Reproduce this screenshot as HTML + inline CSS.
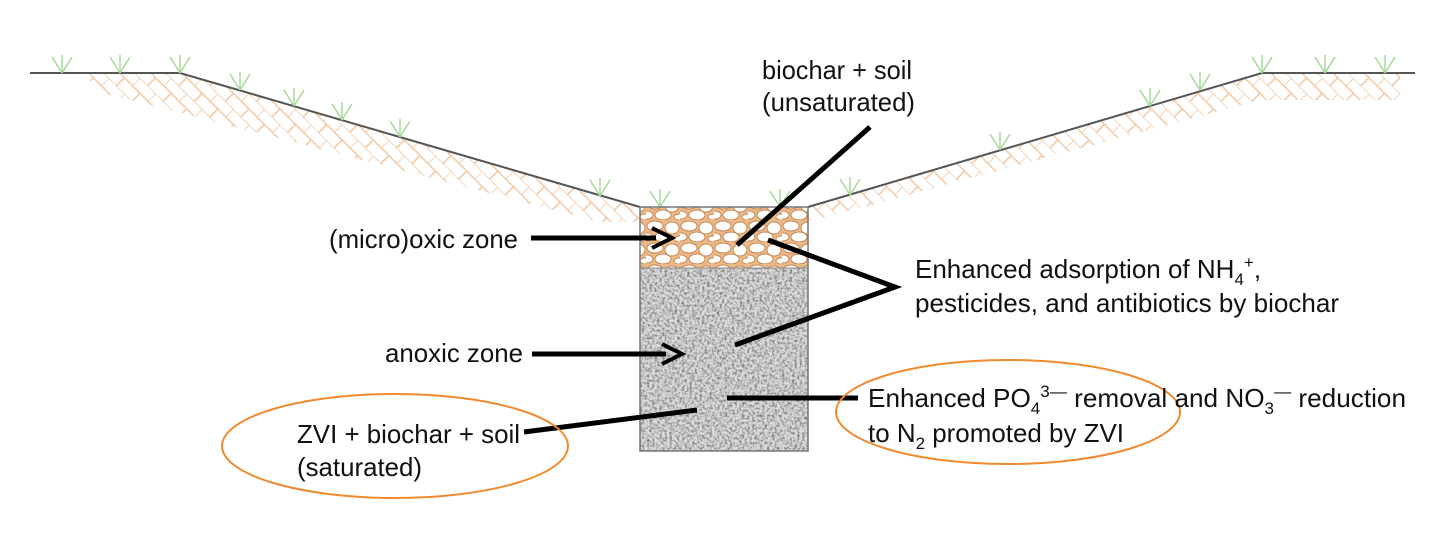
<!DOCTYPE html>
<html><head><meta charset="utf-8"><style>
html,body{margin:0;padding:0;background:#fff;}
svg{display:block;}
text{font-family:"Liberation Sans",sans-serif;font-size:26px;fill:#111;}
</style></head><body>
<svg width="1456" height="539" viewBox="0 0 1456 539" xmlns="http://www.w3.org/2000/svg">
<defs>
<pattern id="brick" width="22" height="22" patternUnits="userSpaceOnUse" patternTransform="rotate(45)">
<rect width="22" height="22" fill="#fff"/>
<path d="M0 0H22M0 11H22M0 0V11M11 11V22" stroke="#f0c9a8" stroke-width="1.6" fill="none"/>
</pattern>
<pattern id="peb" width="34" height="22" patternUnits="userSpaceOnUse">
<rect width="34" height="22" fill="#eab98a"/>
<ellipse cx="9" cy="6" rx="8" ry="5" fill="#fff" stroke="#c98a55"/>
<ellipse cx="26" cy="8" rx="7" ry="6" fill="#fff" stroke="#c98a55"/>
<ellipse cx="17" cy="17" rx="8" ry="5" fill="#fff" stroke="#c98a55"/>
<ellipse cx="1" cy="17" rx="6" ry="4" fill="#fff" stroke="#c98a55"/>
<ellipse cx="33" cy="19" rx="5" ry="3" fill="#fff" stroke="#c98a55"/>
</pattern>
<filter id="noise" x="0" y="0" width="100%" height="100%">
<feTurbulence type="fractalNoise" baseFrequency="0.4" numOctaves="2" seed="3"/>
<feColorMatrix type="matrix" values="0 0 0 0 0.12  0 0 0 0 0.12  0 0 0 0 0.12  -2.0 0 0 0 1.2"/>
</filter>
</defs>
<polygon points="90,73 180,73 640,207 640,222 600,222 170,110 90,90" fill="url(#brick)"/>
<polygon points="808,207 1262,73 1400,73 1400,100 1260,100 808,222" fill="url(#brick)"/>
<polyline points="30,73 180,73 640,207" fill="none" stroke="#555" stroke-width="2"/>
<polyline points="808,207 1262,73 1415,73" fill="none" stroke="#555" stroke-width="2"/>
<g stroke="#a8d89a" stroke-width="1.5" fill="none">
<path d="M62 73l-10-16M62 73l0-18M62 73l10-16"/>
<path d="M120 73l-10-16M120 73l0-18M120 73l10-16"/>
<path d="M180 73l-10-16M180 73l0-18M180 73l10-16"/>
<path d="M240 90l-10-16M240 90l0-18M240 90l10-16"/>
<path d="M294 106l-10-16M294 106l0-18M294 106l10-16"/>
<path d="M342 120l-10-16M342 120l0-18M342 120l10-16"/>
<path d="M400 137l-10-16M400 137l0-18M400 137l10-16"/>
<path d="M600 196l-10-16M600 196l0-18M600 196l10-16"/>
<path d="M660 207l-10-16M660 207l0-18M660 207l10-16"/>
<path d="M780 207l-10-16M780 207l0-18M780 207l10-16"/>
<path d="M850 195l-10-16M850 195l0-18M850 195l10-16"/>
<path d="M1000 150l-10-16M1000 150l0-18M1000 150l10-16"/>
<path d="M1150 106l-10-16M1150 106l0-18M1150 106l10-16"/>
<path d="M1200 90l-10-16M1200 90l0-18M1200 90l10-16"/>
<path d="M1262 73l-10-16M1262 73l0-18M1262 73l10-16"/>
<path d="M1325 73l-10-16M1325 73l0-18M1325 73l10-16"/>
<path d="M1385 73l-10-16M1385 73l0-18M1385 73l10-16"/>
</g>
<rect x="640" y="207" width="168" height="61" fill="url(#peb)"/>
<rect x="640" y="268" width="168" height="183" fill="#dcdcdc"/>
<rect x="640" y="268" width="168" height="183" filter="url(#noise)"/>
<rect x="640" y="207" width="168" height="244" fill="none" stroke="#777" stroke-width="1.5"/>
<line x1="640" y1="268" x2="808" y2="268" stroke="#888"/>
<g stroke="#000" stroke-width="5" fill="none" stroke-linecap="butt">
<line x1="531" y1="238" x2="656" y2="238"/>
<path d="M652 228 L672 238 L652 248" stroke-width="4"/>
<line x1="532" y1="354" x2="666" y2="354"/>
<path d="M662 344 L682 354 L662 364" stroke-width="4"/>
<line x1="870" y1="127" x2="737" y2="245"/>
<polyline points="768,240 895,287 735,345"/>
<line x1="524" y1="432" x2="697" y2="410"/>
<line x1="727" y1="398" x2="858" y2="398"/>
</g>
<ellipse cx="395" cy="446" rx="173" ry="52" fill="none" stroke="#f08a30" stroke-width="2"/>
<ellipse cx="1008" cy="412" rx="172" ry="52" fill="none" stroke="#f08a30" stroke-width="2"/>
<text x="762" y="79" textLength="150" lengthAdjust="spacingAndGlyphs">biochar + soil</text>
<text x="762" y="111" textLength="153" lengthAdjust="spacingAndGlyphs">(unsaturated)</text>
<text x="329" y="248" textLength="189" lengthAdjust="spacingAndGlyphs">(micro)oxic zone</text>
<text x="385" y="362" textLength="138" lengthAdjust="spacingAndGlyphs">anoxic zone</text>
<text x="297" y="443" textLength="223" lengthAdjust="spacingAndGlyphs">ZVI + biochar + soil</text>
<text x="297" y="476" textLength="125" lengthAdjust="spacingAndGlyphs">(saturated)</text>
<text x="915" y="278">Enhanced adsorption of NH<tspan dy="7" font-size="17">4</tspan><tspan dy="-17" font-size="17">+</tspan><tspan dy="10">,</tspan></text>
<text x="915" y="312" textLength="424" lengthAdjust="spacingAndGlyphs">pesticides, and antibiotics by biochar</text>
<text x="868" y="407" textLength="538" lengthAdjust="spacingAndGlyphs">Enhanced PO<tspan dy="7" font-size="17">4</tspan><tspan dy="-17" font-size="17">3—</tspan><tspan dy="10"> removal and NO</tspan><tspan dy="7" font-size="17">3</tspan><tspan dy="-17" font-size="17">—</tspan><tspan dy="10"> reduction</tspan></text>
<text x="868" y="442" textLength="256" lengthAdjust="spacingAndGlyphs">to N<tspan dy="7" font-size="17">2</tspan><tspan dy="-7"> promoted by ZVI</tspan></text>
</svg>
</body></html>
